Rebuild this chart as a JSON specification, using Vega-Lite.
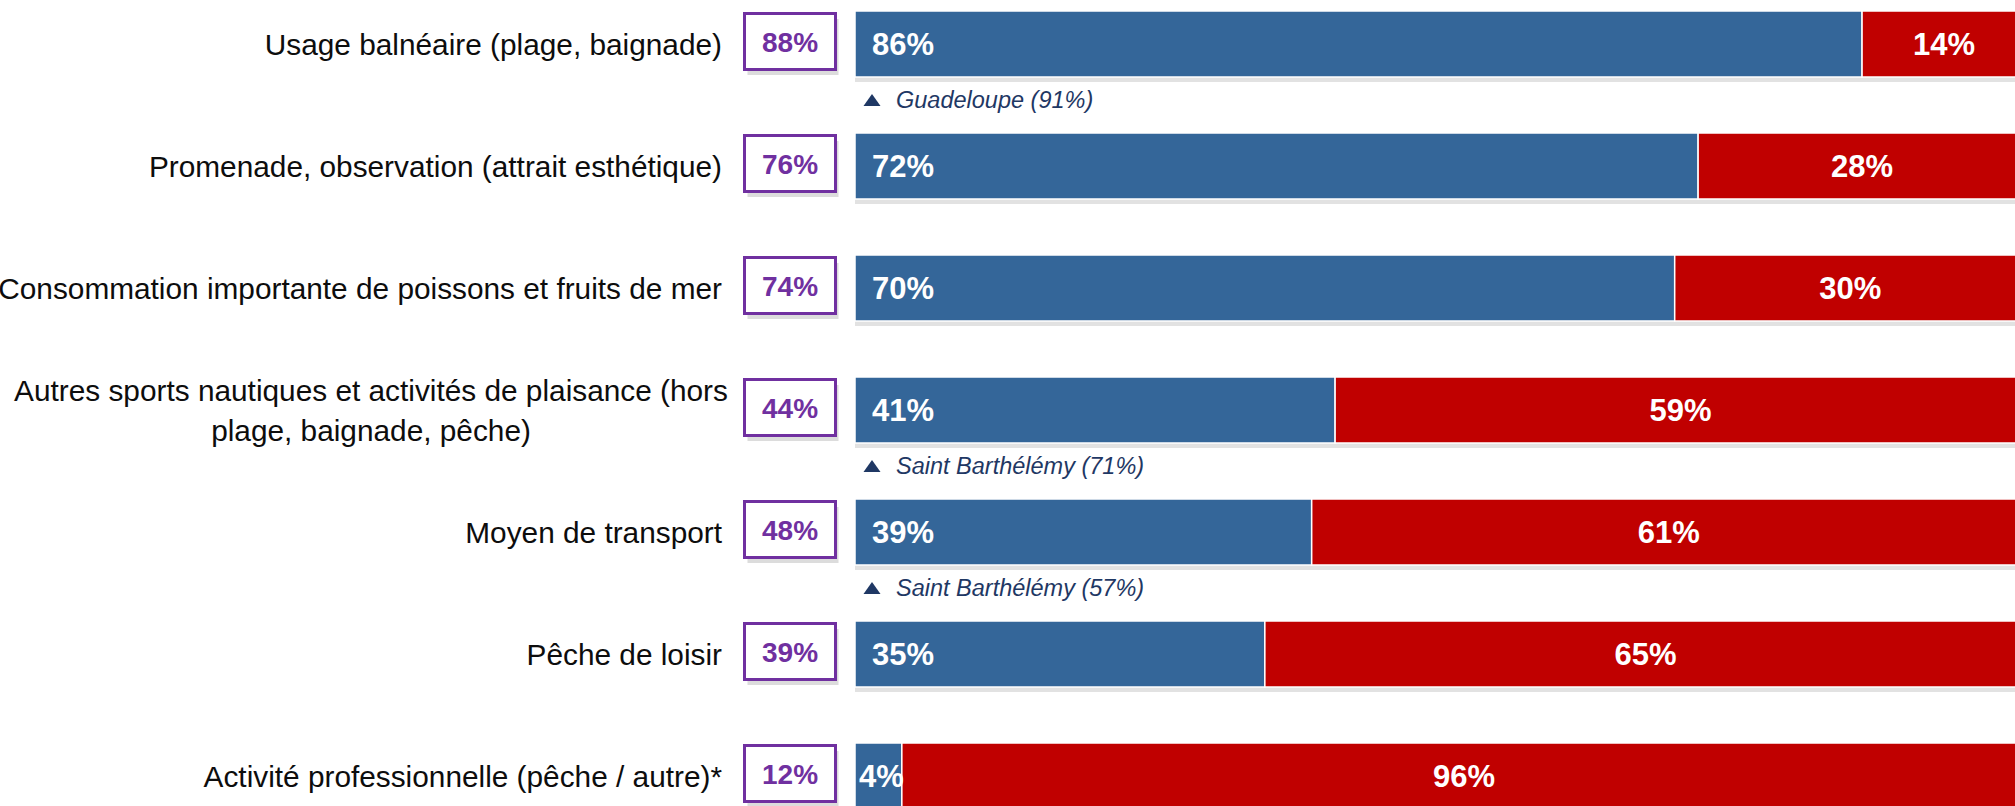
{
  "$schema": "https://vega.github.io/schema/vega-lite/v6.json",
  "width": 1160,
  "height": 806,
  "autosize": {"type": "none"},
  "padding": {"left": 855, "top": 0, "right": 0, "bottom": 0},
  "background": "#ffffff",
  "config": {"view": {"stroke": null}, "text": {"font": "Liberation Sans"}},
  "data": {
    "values": [
      {"cat": "Usage balnéaire (plage, baignade)", "oui": 0.86, "non": 0.14, "total": 0.88, "note": "Guadeloupe (91%)"},
      {"cat": "Promenade, observation (attrait esthétique)", "oui": 0.72, "non": 0.28, "total": 0.76, "note": null},
      {"cat": "Consommation importante de poissons et fruits de mer", "oui": 0.70, "non": 0.30, "total": 0.74, "note": null},
      {"cat": "Autres sports nautiques et activités de plaisance (hors\nplage, baignade, pêche)", "oui": 0.41, "non": 0.59, "total": 0.44, "note": "Saint Barthélémy (71%)"},
      {"cat": "Moyen de transport", "oui": 0.39, "non": 0.61, "total": 0.48, "note": "Saint Barthélémy (57%)"},
      {"cat": "Pêche de loisir", "oui": 0.35, "non": 0.65, "total": 0.39, "note": null},
      {"cat": "Activité professionnelle (pêche / autre)*", "oui": 0.04, "non": 0.96, "total": 0.12, "note": null}
    ]
  },
  "encoding": {
    "y": {
      "field": "cat", "type": "nominal", "sort": null, "axis": null,
      "scale": {"range": [-17, 837], "paddingInner": 0.459, "paddingOuter": 0.2295}
    }
  },
  "layer": [
    {
      "mark": {"type": "bar", "color": "#cfcfcf", "opacity": 0.6, "yOffset": 5},
      "encoding": {
        "x": {"datum": 0, "type": "quantitative", "scale": {"domain": [0, 1], "range": [0, 1171], "nice": false}},
        "x2": {"datum": 1}
      }
    },
    {
      "mark": {"type": "bar", "color": "#346699", "stroke": "#ffffff", "strokeWidth": 1.5},
      "encoding": {
        "x": {"field": "oui", "type": "quantitative", "scale": {"domain": [0, 1], "range": [0, 1171], "nice": false}},
        "x2": {"datum": 0}
      }
    },
    {
      "mark": {"type": "bar", "color": "#C00000", "stroke": "#ffffff", "strokeWidth": 1.5},
      "encoding": {
        "x": {"field": "oui", "type": "quantitative"},
        "x2": {"datum": 1}
      }
    },
    {
      "mark": {"type": "point", "shape": "M-1.625,-1H1.625V1H-1.625Z", "size": 3136, "filled": true, "fill": "#c4c4c4", "opacity": 0.6, "strokeWidth": 0, "xOffset": -62, "yOffset": 3},
      "encoding": {"x": {"datum": 0, "type": "quantitative"}}
    },
    {
      "mark": {"type": "point", "shape": "M-1.625,-1H1.625V1H-1.625Z", "size": 3136, "filled": true, "fill": "#ffffff", "stroke": "#7030A0", "strokeWidth": 3, "opacity": 1, "xOffset": -65, "yOffset": -2.5},
      "encoding": {"x": {"datum": 0, "type": "quantitative"}}
    },
    {
      "mark": {"type": "text", "align": "center", "baseline": "middle", "dx": -65, "dy": 0, "fontSize": 28, "fontWeight": "bold", "color": "#7030A0"},
      "encoding": {
        "x": {"datum": 0, "type": "quantitative"},
        "text": {"field": "total", "type": "quantitative", "format": ".0%"}
      }
    },
    {
      "transform": [{"filter": "indexof(datum.cat, '\\n') < 0"}],
      "mark": {"type": "text", "align": "right", "baseline": "middle", "dx": -133, "dy": 2, "fontSize": 29.8, "color": "#0d0d0d"},
      "encoding": {
        "x": {"datum": 0, "type": "quantitative"},
        "text": {"field": "cat", "type": "nominal"}
      }
    },
    {
      "transform": [{"filter": "indexof(datum.cat, '\\n') >= 0"}],
      "mark": {"type": "text", "align": "center", "baseline": "middle", "lineBreak": "\n", "lineHeight": 40, "dx": -484, "dy": -18, "fontSize": 29.8, "color": "#0d0d0d"},
      "encoding": {
        "x": {"datum": 0, "type": "quantitative"},
        "text": {"field": "cat", "type": "nominal"}
      }
    },
    {
      "transform": [{"filter": "datum.oui >= 0.1"}],
      "mark": {"type": "text", "align": "left", "baseline": "middle", "dx": 17, "dy": 2, "fontSize": 31, "fontWeight": "bold", "color": "#ffffff"},
      "encoding": {
        "x": {"datum": 0, "type": "quantitative"},
        "text": {"field": "oui", "type": "quantitative", "format": ".0%"}
      }
    },
    {
      "transform": [{"filter": "datum.oui < 0.1"}],
      "mark": {"type": "text", "align": "left", "baseline": "middle", "dx": 4, "dy": 2, "fontSize": 31, "fontWeight": "bold", "color": "#ffffff"},
      "encoding": {
        "x": {"datum": 0, "type": "quantitative"},
        "text": {"field": "oui", "type": "quantitative", "format": ".0%"}
      }
    },
    {
      "transform": [{"fold": ["oui", "non"], "as": ["key", "val"]}],
      "mark": {"type": "text", "align": "center", "baseline": "middle", "dy": 2, "fontSize": 31, "fontWeight": "bold", "color": "#ffffff"},
      "encoding": {
        "x": {"field": "val", "type": "quantitative", "stack": "zero", "bandPosition": 0.5},
        "detail": {"field": "key", "type": "nominal"},
        "order": {"field": "key", "sort": "descending"},
        "text": {
          "condition": {"test": "datum.key == 'oui'", "value": ""},
          "field": "val", "type": "quantitative", "format": ".0%"
        }
      }
    },
    {
      "transform": [{"filter": "datum.note"}],
      "mark": {"type": "point", "shape": "M0,-0.7L1,0.7L-1,0.7Z", "size": 289, "filled": true, "fill": "#1F3864", "strokeWidth": 0, "opacity": 1, "xOffset": 17, "yOffset": 56},
      "encoding": {"x": {"datum": 0, "type": "quantitative"}}
    },
    {
      "transform": [{"filter": "datum.note"}],
      "mark": {"type": "text", "align": "left", "baseline": "middle", "dx": 41, "dy": 57, "fontSize": 23.5, "fontStyle": "italic", "color": "#1F3864"},
      "encoding": {
        "x": {"datum": 0, "type": "quantitative"},
        "text": {"field": "note", "type": "nominal"}
      }
    }
  ]
}
